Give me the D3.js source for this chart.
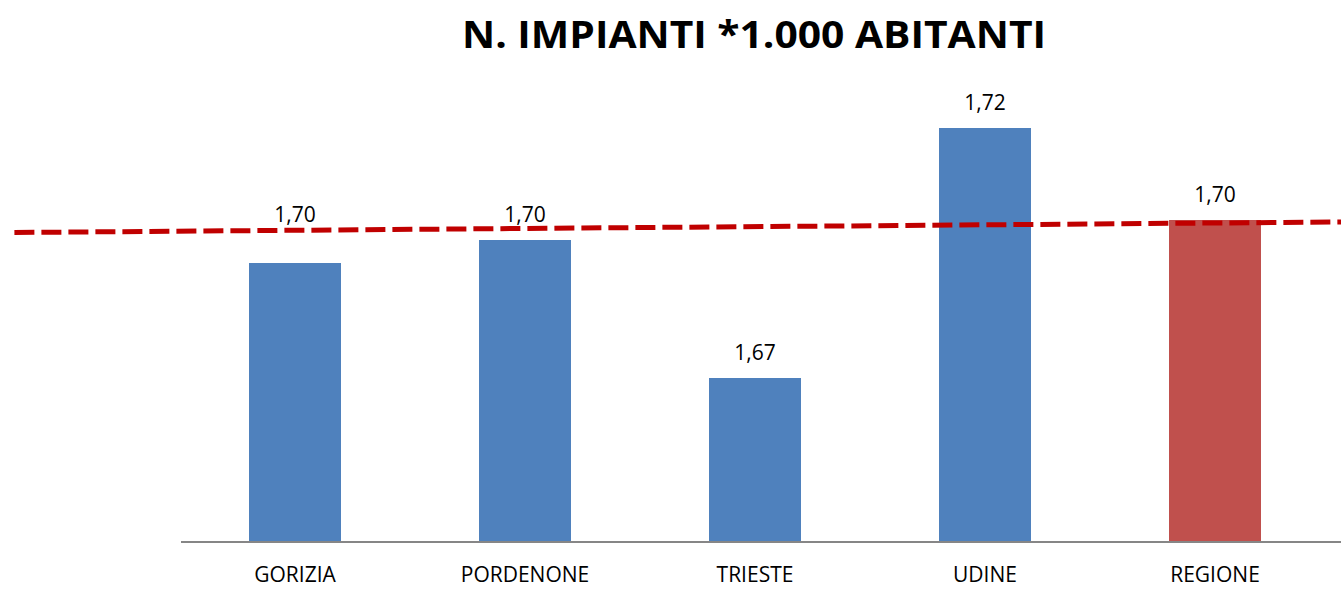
<!DOCTYPE html>
<meta charset="utf-8">
<script src="https://d3js.org/d3.v7.min.js"></script>
<style>
  body { margin: 0; background: #fff; }
  text { font-family: "Open Sans", "DejaVu Sans", sans-serif; }
</style>
<div id="chart"></div>
<script>
  // dati del grafico
  var categories = ["GORIZIA", "PORDENONE", "TRIESTE", "UDINE", "REGIONE"];
  var values = [1.6958, 1.7004, 1.6728, 1.7228, 1.7044];
  var barColors = ["#4F81BD", "#4F81BD", "#4F81BD", "#4F81BD", "#C0504D"];
  // linea di tendenza tratteggiata (indice categoria, valore)
  var trendIndex = [-1.22, 4.55];
  var trendValue = [1.7019, 1.7040];
  var title = "N. IMPIANTI *1.000 ABITANTI";

  var width = 1341, height = 589;
  var margin = { top: 42, right: 11, bottom: 47, left: 180 };

  var svg = d3.select("#chart").append("svg")
    .attr("width", width)
    .attr("height", height);

  var x = d3.scaleBand()
    .domain(categories)
    .range([margin.left, width - margin.right])
    .paddingInner(0.6)
    .paddingOuter(0.3);

  // scala continua per la linea di tendenza (indice -> centro della barra)
  var xi = d3.scaleLinear()
    .domain([0, categories.length - 1])
    .range([x(categories[0]) + x.bandwidth() / 2, x(categories[categories.length - 1]) + x.bandwidth() / 2]);

  var y = d3.scaleLinear()
    .domain([1.64, 1.74])
    .range([height - margin.bottom, margin.top]);

  var it = d3.formatLocale({ decimal: ",", thousands: ".", grouping: [3], currency: ["", "€"] });
  var fmt = it.format(".2f");

  // titolo
  svg.append("text")
    .attr("x", 754)
    .attr("y", 48)
    .attr("text-anchor", "middle")
    .attr("font-size", 38)
    .attr("font-weight", "bold")
    .attr("textLength", 584)
    .attr("lengthAdjust", "spacingAndGlyphs")
    .text(title);

  // barre
  svg.selectAll("rect.bar")
    .data(values)
    .enter()
    .append("rect")
    .attr("class", "bar")
    .attr("x", function (d, i) { return x(categories[i]) })
    .attr("y", function (d) { return y(d) })
    .attr("width", x.bandwidth())
    .attr("height", function (d) { return y(1.64) - y(d) })
    .style("fill", function (d, i) { return barColors[i] });

  // asse x
  var axis = svg.append("g")
    .attr("transform", "translate(0," + y(1.64) + ")")
    .call(d3.axisBottom(x).tickSize(0).tickPadding(25));
  axis.select(".domain").remove();
  axis.append("line")
    .attr("x1", margin.left + 1).attr("x2", width)
    .attr("stroke", "#868686").attr("stroke-width", 2);
  axis.selectAll(".tick text")
    .attr("font-size", 21)
    .attr("font-family", "'Open Sans', sans-serif")
    .attr("fill", "#000");

  // etichette dei valori
  svg.selectAll("text.lbl")
    .data(values)
    .enter()
    .append("text")
    .attr("class", "lbl")
    .attr("x", function (d, i) { return x(categories[i]) + x.bandwidth() / 2 })
    .attr("y", function (d, i) {
      // l'etichetta di Gorizia è spostata in alto come nell'originale
      var yy = y(d) - 18;
      if (i === 0) yy = y(values[1]) - 18;
      return yy;
    })
    .attr("text-anchor", "middle")
    .attr("font-size", 21)
    .attr("fill", "#000")
    .text(function (d) { return fmt(d) });

  // linea di tendenza
  var trend = trendIndex.map(function (d, i) { return [xi(d), y(trendValue[i])] });
  svg.append("path")
    .attr("d", d3.line()(trend))
    .attr("fill", "none")
    .attr("stroke", "#C00000")
    .attr("stroke-width", 5)
    .attr("stroke-dasharray", "20,7");
</script>
